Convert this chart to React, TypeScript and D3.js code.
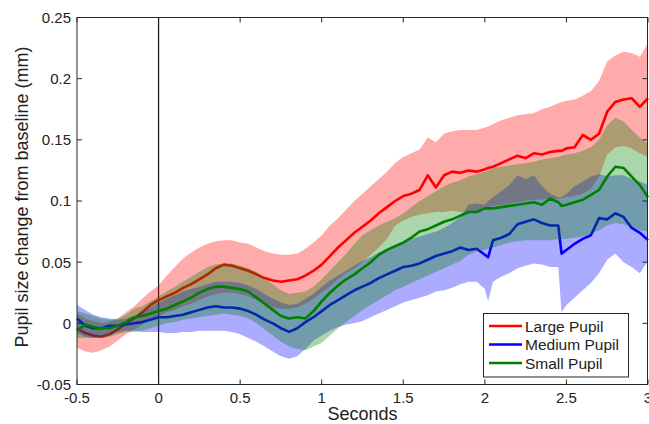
import React from "react";
import * as d3 from "d3";

const seconds = [
  -0.5, -0.45, -0.4, -0.35, -0.3, -0.25, -0.2, -0.15, -0.1, -0.05,
  0, 0.05, 0.1, 0.15, 0.2, 0.25, 0.3, 0.35, 0.4, 0.45,
  0.5, 0.55, 0.6, 0.65, 0.7, 0.75, 0.8, 0.85, 0.9, 0.95,
  1.0, 1.05, 1.1, 1.15, 1.2, 1.25, 1.3, 1.35, 1.4, 1.45,
  1.5, 1.55, 1.6, 1.65, 1.7, 1.75, 1.8, 1.85, 1.9, 1.95,
  2.0, 2.02, 2.05, 2.1, 2.15, 2.2, 2.25, 2.3, 2.35, 2.4, 2.45, 2.47,
  2.5, 2.55, 2.6, 2.65, 2.7, 2.75, 2.8, 2.85, 2.9, 2.95,
  3.0,
];

const largeMean = [
  -0.004, -0.008, -0.01, -0.011, -0.009, -0.005, 0.0, 0.004, 0.009, 0.015,
  0.019, 0.022, 0.025, 0.029, 0.032, 0.036, 0.04, 0.045, 0.048, 0.047,
  0.045, 0.043, 0.04, 0.037, 0.035, 0.034, 0.035, 0.036, 0.039, 0.043,
  0.048, 0.055, 0.062, 0.068, 0.074, 0.079, 0.084, 0.09, 0.095, 0.1,
  0.104, 0.106, 0.109, 0.121, 0.111, 0.121, 0.124, 0.123, 0.125, 0.124,
  0.126, 0.127, 0.128, 0.131, 0.134, 0.137, 0.135, 0.139, 0.138, 0.14, 0.141, 0.141,
  0.143, 0.144, 0.154, 0.15, 0.155, 0.173, 0.181, 0.183, 0.184, 0.177,
  0.184,
];
const largeLower = [
  -0.02, -0.023, -0.024, -0.022, -0.019, -0.014, -0.009, -0.005, -0.001, 0.003,
  0.006, 0.009, 0.011, 0.014, 0.016, 0.019, 0.022, 0.024, 0.025, 0.025,
  0.024, 0.022, 0.019, 0.016, 0.013, 0.012, 0.012, 0.013, 0.016, 0.02,
  0.025, 0.03, 0.036, 0.041, 0.045, 0.05, 0.056, 0.062, 0.069, 0.08,
  0.084, 0.087, 0.089, 0.09, 0.091, 0.091, 0.092, 0.091, 0.09, 0.092,
  0.095, 0.095, 0.096, 0.097, 0.098, 0.099, 0.1, 0.101, 0.101, 0.102, 0.102, 0.102,
  0.103, 0.104, 0.106, 0.11, 0.12, 0.138, 0.144, 0.145, 0.143, 0.139,
  0.136,
];
const largeUpper = [
  0.008, 0.004, 0.002, 0.0, 0.001, 0.004, 0.009, 0.014, 0.02, 0.026,
  0.031, 0.039, 0.046, 0.053, 0.058, 0.062, 0.065, 0.067, 0.068, 0.068,
  0.066, 0.065, 0.062, 0.059, 0.057, 0.056, 0.056, 0.057, 0.061, 0.066,
  0.072, 0.08, 0.086, 0.093, 0.1, 0.106, 0.112, 0.118, 0.124, 0.131,
  0.136, 0.139, 0.142, 0.152, 0.148, 0.155, 0.157, 0.158, 0.158, 0.158,
  0.16, 0.161, 0.163, 0.166, 0.168, 0.17, 0.171, 0.172, 0.175, 0.177, 0.18, 0.181,
  0.182, 0.183, 0.186, 0.19, 0.198, 0.214, 0.219, 0.222, 0.221, 0.218,
  0.229,
];

const mediumMean = [
  0.004, -0.002, -0.004, -0.004, -0.002, -0.002, -0.001, 0.0, 0.001, 0.003,
  0.005, 0.005, 0.006, 0.007, 0.009, 0.011, 0.013, 0.014, 0.013, 0.013,
  0.012, 0.01, 0.007, 0.003, 0.0, -0.004, -0.007, -0.004, 0.001, 0.005,
  0.01, 0.015, 0.019, 0.023, 0.027, 0.03, 0.033, 0.037, 0.04, 0.043,
  0.046, 0.047, 0.049, 0.052, 0.055, 0.057, 0.059, 0.062, 0.06, 0.061,
  0.056, 0.054, 0.068, 0.07, 0.073, 0.081, 0.083, 0.085, 0.082, 0.08, 0.08, 0.057,
  0.06, 0.065, 0.069, 0.072, 0.086, 0.085, 0.09, 0.087, 0.078, 0.074,
  0.068,
];
const mediumLower = [
  -0.008, -0.011, -0.012, -0.011, -0.009, -0.007, -0.006, -0.006, -0.007, -0.007,
  -0.007, -0.008, -0.008, -0.007, -0.007, -0.006, -0.006, -0.006, -0.006, -0.007,
  -0.009, -0.012, -0.015, -0.019, -0.023, -0.027, -0.029, -0.027, -0.021, -0.014,
  -0.01, -0.006, -0.003, -0.001, 0.0, 0.002, 0.005, 0.008, 0.011, 0.014,
  0.017, 0.019, 0.021, 0.023, 0.026, 0.027, 0.029, 0.032, 0.034, 0.034,
  0.028, 0.018, 0.034, 0.038, 0.041, 0.045, 0.047, 0.049, 0.048, 0.046, 0.046, 0.009,
  0.015, 0.021, 0.027, 0.033, 0.041, 0.052, 0.057, 0.05, 0.046, 0.041,
  0.051,
];
const mediumUpper = [
  0.015, 0.011, 0.007, 0.005, 0.004, 0.003, 0.004, 0.006, 0.009, 0.013,
  0.017, 0.02, 0.023, 0.026, 0.028, 0.03, 0.032, 0.034, 0.034, 0.034,
  0.033, 0.031, 0.028, 0.024, 0.02, 0.017, 0.015, 0.016, 0.02, 0.024,
  0.03, 0.035, 0.039, 0.043, 0.047, 0.051, 0.054, 0.058, 0.061, 0.064,
  0.067, 0.069, 0.071, 0.073, 0.075, 0.078, 0.082, 0.087, 0.097, 0.098,
  0.097, 0.1, 0.103, 0.108, 0.113, 0.121, 0.118, 0.121, 0.112, 0.106, 0.103, 0.103,
  0.106, 0.112, 0.116, 0.12, 0.122, 0.12, 0.121, 0.121, 0.118, 0.116,
  0.113,
];

const smallMean = [
  -0.006, -0.001, -0.003, -0.004, -0.004, -0.002, 0.001, 0.005, 0.006, 0.008,
  0.01, 0.012, 0.015, 0.018, 0.021, 0.025, 0.028, 0.03, 0.03, 0.029,
  0.028, 0.026, 0.021, 0.016, 0.011, 0.006, 0.004, 0.005, 0.004, 0.01,
  0.018, 0.025, 0.031, 0.036, 0.04, 0.045, 0.05, 0.056, 0.06, 0.063,
  0.066, 0.07, 0.075, 0.077, 0.08, 0.083, 0.085, 0.088, 0.091, 0.091,
  0.094, 0.094, 0.094, 0.095, 0.096, 0.097, 0.098, 0.099, 0.097, 0.102, 0.099, 0.096,
  0.097, 0.099, 0.101, 0.105, 0.109, 0.12, 0.128, 0.127, 0.12, 0.113,
  0.103,
];
const smallLower = [
  -0.012, -0.012, -0.012, -0.012, -0.011, -0.009, -0.007, -0.007, -0.006, -0.004,
  -0.002, 0.0, 0.001, 0.003, 0.004, 0.005, 0.006, 0.007, 0.008, 0.007,
  0.006, 0.004, 0.0, -0.005, -0.01, -0.015, -0.019, -0.021, -0.022, -0.019,
  -0.016, -0.01, -0.004, 0.001, 0.006, 0.011, 0.015, 0.019, 0.023, 0.027,
  0.03, 0.033, 0.036, 0.039, 0.042, 0.045, 0.048, 0.051, 0.056, 0.059,
  0.06, 0.061, 0.062, 0.064, 0.066, 0.067, 0.068, 0.068, 0.068, 0.068, 0.069, 0.069,
  0.069, 0.07, 0.071, 0.073, 0.076, 0.08, 0.082, 0.081, 0.079, 0.076,
  0.075,
];
const smallUpper = [
  0.01, 0.008, 0.006, 0.004, 0.003, 0.004, 0.007, 0.012, 0.014, 0.018,
  0.022, 0.026, 0.03, 0.034, 0.038, 0.042, 0.046, 0.048, 0.049, 0.049,
  0.047, 0.045, 0.042, 0.037, 0.032, 0.027, 0.024, 0.025, 0.026, 0.03,
  0.036, 0.043, 0.05, 0.057, 0.065, 0.072, 0.076, 0.08, 0.083, 0.086,
  0.09, 0.095, 0.1, 0.104, 0.108, 0.112, 0.115, 0.117, 0.12, 0.122,
  0.124, 0.125, 0.127, 0.128, 0.129, 0.13, 0.131, 0.132, 0.134, 0.135, 0.136, 0.137,
  0.138, 0.139, 0.141, 0.144, 0.15, 0.162, 0.168, 0.165, 0.158, 0.152,
  0.147,
];

const xTicks = [-0.5, 0, 0.5, 1, 1.5, 2, 2.5, 3];
const xTickLabels = ["-0.5", "0", "0.5", "1", "1.5", "2", "2.5", "3"];
const yTicks = [-0.05, 0, 0.05, 0.1, 0.15, 0.2, 0.25];
const yTickLabels = ["-0.05", "0", "0.05", "0.1", "0.15", "0.2", "0.25"];

const seriesNames = ["Large Pupil", "Medium Pupil", "Small Pupil"];
const seriesColors = ["#ff0000", "#0000ff", "#008000"];

const W = 649;
const H = 424;
const FONT = "'Liberation Sans', Arial, Helvetica, sans-serif";
const AXIS = "#262626";

export default function App() {
  const x = d3.scaleLinear().domain([-0.5, 3]).range([77, 648]);
  const y = d3.scaleLinear().domain([-0.05, 0.25]).range([384.5, 17.5]);

  const series = [
    { mean: largeMean, lo: largeLower, hi: largeUpper },
    { mean: mediumMean, lo: mediumLower, hi: mediumUpper },
    { mean: smallMean, lo: smallLower, hi: smallUpper },
  ];

  const idx = seconds.map((_, i) => i);
  const area = (lo: number[], hi: number[]) =>
    d3
      .area<number>()
      .x((i) => x(seconds[i]))
      .y0((i) => y(lo[i]))
      .y1((i) => y(hi[i]))(idx) || "";
  const line = (m: number[]) =>
    d3
      .line<number>()
      .x((i) => x(seconds[i]))
      .y((i) => y(m[i]))(idx) || "";

  const left = x(-0.5);
  const right = x(3);
  const top = y(0.25);
  const bottom = y(-0.05);

  return (
    <svg
      width={W}
      height={H}
      style={{ position: "absolute", left: 0, top: 0, background: "#fff" }}
      fontFamily={FONT}
    >
      <rect x={0} y={0} width={W} height={H} fill="#fff" />
      <line x1={x(0)} x2={x(0)} y1={top} y2={bottom} stroke="#111" strokeWidth={1.2} />
      {series.map((s, k) => (
        <g key={k}>
          <path d={area(s.lo, s.hi)} fill={seriesColors[k]} fillOpacity={0.33} stroke="none" />
          <path
            d={line(s.mean)}
            fill="none"
            stroke={seriesColors[k]}
            strokeWidth={2.6}
            strokeLinejoin="round"
          />
        </g>
      ))}
      <rect
        x={left}
        y={top}
        width={right - left - 0.5}
        height={bottom - top}
        fill="none"
        stroke={AXIS}
        strokeWidth={1}
      />
      {xTicks.map((t, i) => (
        <g key={"x" + i}>
          <line x1={x(t)} x2={x(t)} y1={bottom} y2={bottom - 5} stroke={AXIS} />
          <line x1={x(t)} x2={x(t)} y1={top} y2={top + 5} stroke={AXIS} />
          <text x={x(t)} y={403} textAnchor="middle" fontSize={15} fill="#222">
            {xTickLabels[i]}
          </text>
        </g>
      ))}
      {yTicks.map((t, i) => (
        <g key={"y" + i}>
          <line x1={left} x2={left + 5} y1={y(t)} y2={y(t)} stroke={AXIS} />
          <line x1={right - 0.5} x2={right - 5.5} y1={y(t)} y2={y(t)} stroke={AXIS} />
          <text x={71} y={y(t)} dy="0.36em" textAnchor="end" fontSize={15} fill="#222">
            {yTickLabels[i]}
          </text>
        </g>
      ))}
      <text x={(left + right) / 2} y={420} textAnchor="middle" fontSize={18} fill="#222">
        Seconds
      </text>
      <text
        transform={`translate(28,${(top + bottom) / 2 - 4}) rotate(-90)`}
        textAnchor="middle"
        fontSize={18}
        fill="#222"
      >
        Pupil size change from baseline (mm)
      </text>
      <g>
        <rect x={483.5} y={313.5} width={145} height={63.5} fill="#fff" stroke={AXIS} />
        {seriesNames.map((n, i) => (
          <g key={n}>
            <line
              x1={489}
              x2={522}
              y1={326 + i * 18.5}
              y2={326 + i * 18.5}
              stroke={seriesColors[i]}
              strokeWidth={2.6}
            />
            <text x={525} y={326 + i * 18.5} dy="0.36em" fontSize={15.5} fill="#222">
              {n}
            </text>
          </g>
        ))}
      </g>
    </svg>
  );
}
